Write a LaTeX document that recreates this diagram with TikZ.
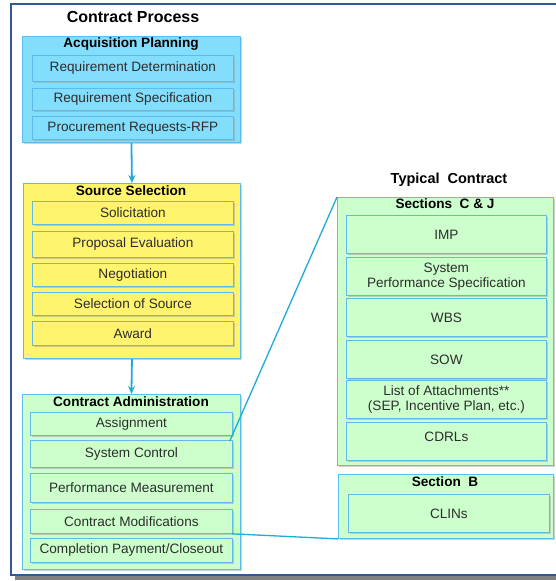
\documentclass[tikz,border=0pt]{standalone}
\usepackage{fontspec}
\setmainfont{Liberation Sans}
\usetikzlibrary{arrows.meta,shadows}

\definecolor{frameblue}{RGB}{52,88,150}
\definecolor{acqfill}{RGB}{130,222,252}
\definecolor{acqedge}{RGB}{90,190,235}
\definecolor{selfill}{RGB}{255,244,110}
\definecolor{admfill}{RGB}{204,255,204}
\definecolor{boxedge}{RGB}{95,185,235}
\definecolor{linkcol}{RGB}{30,172,215}
\definecolor{txtgray}{RGB}{45,45,45}

\begin{document}
\begin{tikzpicture}[x=1pt,y=-1pt,
  shade/.style={drop shadow={shadow xshift=1.6pt,shadow yshift=-1.6pt,fill=black!40,opacity=0.45}},
  group/.style={draw=acqedge,line width=0.9pt,anchor=north west,inner sep=0pt,shade},
  item/.style={draw=boxedge,line width=0.8pt,anchor=north west,inner sep=0pt,align=center,
               font=\fontsize{13.6}{15}\selectfont,text=txtgray,shade},
  heading/.style={anchor=north,font=\fontsize{13.6}{14}\selectfont\bfseries,text=black,inner sep=0pt},
  bigheading/.style={anchor=center,font=\fontsize{16}{17}\selectfont\bfseries,text=black,inner sep=0pt},
  flow/.style={draw=linkcol,line width=1.8pt,-{Stealth[length=8pt,width=7pt]}},
  link/.style={draw=linkcol,line width=1.3pt}]

\useasboundingbox (0,0) rectangle (555,581);

% page frame with its shadow
\fill[black!50] (15,8) rectangle (575,580);
\draw[frameblue,line width=2pt,fill=white] (11,4) rectangle (571,575);

% ---- left column: the contract process ----
\node[bigheading] (cptitle) at (133,17) {Contract Process};

\node[group,fill=acqfill,minimum width=218pt,minimum height=106pt] (acq) at (22,36) {};
\node[heading] (acqt) at (131,37) {Acquisition Planning};
\node[item,fill=acqfill,minimum width=201pt,minimum height=26pt] (rd) at (32,55) {Requirement Determination};
\node[item,fill=acqfill,minimum width=201pt,minimum height=22pt] (rs) at (32,88) {Requirement Specification};
\node[item,fill=acqfill,minimum width=201pt,minimum height=23pt] (pr) at (32,116) {Procurement Requests-RFP};

\node[group,fill=selfill,minimum width=217pt,minimum height=175pt] (sel) at (23,183) {};
\node[heading] (selt) at (131,185) {Source Selection};
\node[item,fill=selfill,minimum width=201pt,minimum height=23pt] (sol) at (32,201) {Solicitation};
\node[item,fill=selfill,minimum width=201pt,minimum height=26pt] (pe) at (32,231) {Proposal Evaluation};
\node[item,fill=selfill,minimum width=201pt,minimum height=23pt] (neg) at (32,263) {Negotiation};
\node[item,fill=selfill,minimum width=201pt,minimum height=23pt] (sos) at (32,292) {Selection of Source};
\node[item,fill=selfill,minimum width=201pt,minimum height=24pt] (aw) at (32,321) {Award};

\node[group,fill=admfill,minimum width=218pt,minimum height=175pt] (adm) at (22,394) {};
\node[heading] (admt) at (131,396) {Contract Administration};
\node[item,fill=admfill,minimum width=202pt,minimum height=23pt] (asg) at (30,412) {Assignment};
\node[item,fill=admfill,minimum width=202pt,minimum height=27pt] (sc) at (30,440) {System Control};
\node[item,fill=admfill,minimum width=202pt,minimum height=29pt] (pm) at (30,473) {Performance Measurement};
\node[item,fill=admfill,minimum width=202pt,minimum height=24pt] (cm) at (30,509) {Contract Modifications};
\node[item,fill=admfill,minimum width=202pt,minimum height=24pt] (cp) at (30,538) {Completion Payment/Closeout};

\draw[flow] (acq.south) -- (sel.north);
\draw[flow] (sel.south) -- (adm.north);

% ---- right column: the typical contract ----
\node[bigheading,font=\fontsize{14.5}{15}\selectfont\bfseries] (tctitle) at (449,180) {Typical\ \ Contract};

\node[group,fill=admfill,minimum width=216pt,minimum height=268pt] (scj) at (337,197) {};
\node[heading] (scjt) at (445,198) {Sections\ \ C \& J};
\node[item,fill=admfill,minimum width=200pt,minimum height=38pt] (imp) at (346,215) {IMP};
\node[item,fill=admfill,minimum width=200pt,minimum height=38pt] (sps) at (346,257) {System\\Performance Specification};
\node[item,fill=admfill,minimum width=200pt,minimum height=38pt] (wbs) at (346,298) {WBS};
\node[item,fill=admfill,minimum width=200pt,minimum height=38pt] (sow) at (346,340) {SOW};
\node[item,fill=admfill,minimum width=200pt,minimum height=38pt] (loa) at (346,380) {List of Attachments**\\(SEP, Incentive Plan, etc.)};
\node[item,fill=admfill,minimum width=200pt,minimum height=38pt,text depth=9pt] (cdrl) at (346,422) {CDRLs};

\node[group,fill=admfill,minimum width=215pt,minimum height=64pt] (secb) at (338,474) {};
\node[heading] (secbt) at (445,476) {Section\ \ B};
\node[item,fill=admfill,minimum width=201pt,minimum height=38pt] (clin) at (348,494) {CLINs};

% connectors from the administration steps to the contract sections
\draw[link] ([xshift=-3pt,yshift=-1pt]sc.north east) -- (scj.north west);
\draw[link] ([xshift=-1pt]cm.south east) -- (secb.south west);

\end{tikzpicture}
\end{document}
